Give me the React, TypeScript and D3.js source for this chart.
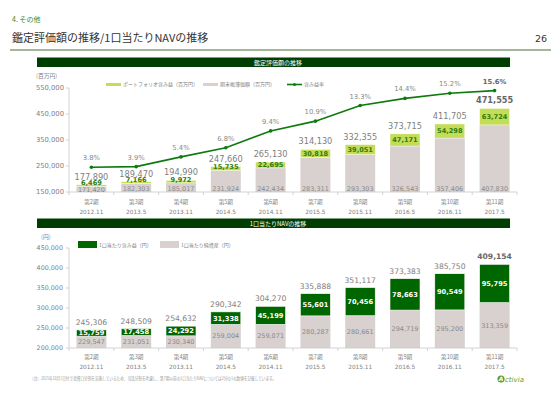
import * as d3 from 'd3';

const periods = ['第2期', '第3期', '第4期', '第5期', '第6期', '第7期', '第8期', '第9期', '第10期', '第11期'];
const dates = ['2012.11', '2013.5', '2013.11', '2014.5', '2014.11', '2015.5', '2015.11', '2016.5', '2016.11', '2017.5'];

// 鑑定評価額の推移 (百万円)
const bookValue = [171420, 182303, 185017, 231924, 242434, 283311, 293303, 326543, 357406, 407830];
const unrealizedGain = [6469, 7166, 9972, 15735, 22695, 30818, 39051, 47171, 54298, 63724];
const appraisalValue = [177890, 189470, 194990, 247660, 265130, 314130, 332355, 373715, 411705, 471555];
const gainRate = [3.8, 3.9, 5.4, 6.8, 9.4, 10.9, 13.3, 14.4, 15.2, 15.6];
const topTicks = [150000, 250000, 350000, 450000, 550000];

// 1口当たりNAVの推移 (円)
const navNetAssets = [229547, 231051, 230340, 259004, 259071, 280287, 280661, 294719, 295200, 313359];
const navGain = [15759, 17458, 24292, 31338, 45199, 55601, 70456, 78663, 90549, 95795];
const navTotal = [245306, 248509, 254632, 290342, 304270, 335888, 351117, 373383, 385750, 409154];
const bottomTicks = [200000, 250000, 300000, 350000, 400000, 450000];

const JP = '"Noto Sans CJK JP", sans-serif';
const NUM = '"DejaVu Sans", sans-serif';
const GRAY_BAR = '#d8d1d0';
const LIME = '#c4dc58';
const DARK = '#006600';
const LINE = '#0d7a0d';
const fmt = d3.format(',');

export default function App() {
  const x = d3.scaleBand<string>().domain(periods).range([69, 517]).paddingInner(0.33).paddingOuter(0.165);
  const bw = x.bandwidth();
  const step = x.step();
  const cx = (i: number) => (x(periods[i]) as number) + bw / 2;

  const yTop = d3.scaleLinear().domain([150000, 550000]).range([192, 88]);
  const yRate = d3.scaleLinear().domain([0, 16]).range([192, 88]);
  const yBot = d3.scaleLinear().domain([200000, 450000]).range([348, 248]);

  const rateLine = d3.line<number>()
    .x((_, i) => cx(i))
    .y(d => yRate(d));

  const xLabels = (y0: number) => periods.map((p, i) => (
    <g key={p} fill="#808080" textAnchor="middle">
      <text x={cx(i)} y={y0} fontSize={5.6} fontFamily={JP}>{p}</text>
      <text x={cx(i)} y={y0 + 10} fontSize={5.8} fontFamily={NUM}>{dates[i]}</text>
    </g>
  ));

  const xAxisLine = (y0: number) => (
    <g stroke="#c8c8c8" strokeWidth={0.8}>
      <line x1={69} x2={517} y1={y0} y2={y0} />
      {d3.range(periods.length + 1).map(i => (
        <line key={i} x1={69 + i * step} x2={69 + i * step} y1={y0} y2={y0 + 3} />
      ))}
    </g>
  );

  return (
    <div style={{ position: 'fixed', left: 0, top: 0 }}>
      <svg width={560} height={396} style={{ display: 'block', background: '#fff' }}>
        {/* header */}
        <text x={12} y={22} fontSize={7} fill="#3c8a1e" fontFamily={JP}>4. その他</text>
        <text x={12} y={42} fontSize={11} fill="#333" fontFamily={JP}>鑑定評価額の推移/1口当たりNAVの推移</text>
        <text x={547} y={42} fontSize={9.5} fill="#333" fontFamily={NUM} textAnchor="end">26</text>
        <line x1={10} x2={551} y1={50} y2={50} stroke="#4a6e35" strokeWidth={1} />

        {/* ---------- top chart ---------- */}
        <rect x={37} y={57.5} width={473} height={9.5} fill="#003d00" />
        <text x={278} y={64.8} fontSize={6} fill="#fff" fontFamily={JP} textAnchor="middle">鑑定評価額の推移</text>
        <text x={36} y={78} fontSize={5.8} fill="#808080" fontFamily={JP}>(百万円)</text>

        {/* legend */}
        <rect x={106} y={83} width={15} height={3} fill={LIME} />
        <text x={123} y={86.3} fontSize={5} fill="#808080" fontFamily={JP}>ポートフォリオ含み益（百万円）</text>
        <rect x={203} y={83} width={15} height={3} fill={GRAY_BAR} />
        <text x={220} y={86.3} fontSize={5} fill="#808080" fontFamily={JP}>期末帳簿価額（百万円）</text>
        <line x1={287} x2={302} y1={84.5} y2={84.5} stroke={LINE} strokeWidth={1.6} />
        <circle cx={294.5} cy={84.5} r={1.5} fill={LINE} />
        <text x={304} y={86.3} fontSize={5} fill="#808080" fontFamily={JP}>含み益率</text>

        {/* y axis */}
        <line x1={69} x2={69} y1={88} y2={192} stroke="#c8c8c8" strokeWidth={0.8} />
        {topTicks.map(t => (
          <g key={t}>
            <line x1={66} x2={69} y1={yTop(t)} y2={yTop(t)} stroke="#c8c8c8" strokeWidth={0.8} />
            <text x={64} y={yTop(t) + 2.4} fontSize={6.8} fill="#808080" fontFamily={NUM} textAnchor="end">{fmt(t)}</text>
          </g>
        ))}

        {/* bars */}
        {periods.map((p, i) => {
          const x0 = x(p) as number;
          const yb = yTop(bookValue[i]);
          const yt = yTop(appraisalValue[i]);
          return (
            <g key={p}>
              <rect x={x0} y={yb} width={bw} height={192 - yb} fill={GRAY_BAR} />
              <rect x={x0} y={yt} width={bw} height={yb - yt} fill={LIME} stroke="#fff" strokeWidth={0.5} />
            </g>
          );
        })}
        {xAxisLine(192)}
        {periods.map((p, i) => {
          const yb = yTop(bookValue[i]);
          const yt = yTop(appraisalValue[i]);
          const gainMid = Math.min((yb + yt) / 2, yb - 3.5);
          const bookMid = Math.max((yb + 192) / 2, 188.5);
          const last = i === periods.length - 1;
          return (
            <g key={p} textAnchor="middle">
              <text x={cx(i)} y={bookMid + 2.3} fontSize={6.5} fill="#8a8a8a" fontFamily={NUM}>{fmt(bookValue[i])}</text>
              <text x={cx(i)} y={gainMid + 2.3} fontSize={6.6} fontWeight="bold" fill="#2e7d0f" fontFamily={NUM}>{fmt(unrealizedGain[i])}</text>
              <text x={cx(i)} y={yt - 5} fontSize={8.2} fontWeight={last ? 'bold' : 'normal'} fill={last ? '#666' : '#808080'} fontFamily={NUM}>{fmt(appraisalValue[i])}</text>
            </g>
          );
        })}

        {/* gain rate line */}
        <path d={rateLine(gainRate) ?? ''} fill="none" stroke={LINE} strokeWidth={1.6} />
        {gainRate.map((r, i) => {
          const last = i === gainRate.length - 1;
          return (
            <g key={i}>
              <circle cx={cx(i)} cy={yRate(r)} r={1.8} fill={LINE} />
              <text x={cx(i)} y={yRate(r) - 7} fontSize={6.8} fontWeight={last ? 'bold' : 'normal'} fill={last ? '#666' : '#8a8a8a'} fontFamily={NUM} textAnchor="middle">{r.toFixed(1)}%</text>
            </g>
          );
        })}
        {xLabels(204)}

        {/* ---------- bottom chart ---------- */}
        <rect x={37} y={218.5} width={473} height={9.5} fill="#003d00" />
        <text x={278} y={225.8} fontSize={6} fill="#fff" fontFamily={JP} textAnchor="middle">1口当たりNAVの推移</text>
        <text x={41} y={239} fontSize={5.8} fill="#808080" fontFamily={JP}>(円)</text>

        <rect x={78} y={241} width={19} height={7} fill={DARK} />
        <text x={99} y={246.6} fontSize={5} fill="#808080" fontFamily={JP}>1口当たり含み益（円）</text>
        <rect x={160} y={241} width={19} height={7} fill={GRAY_BAR} />
        <text x={181} y={246.6} fontSize={5} fill="#808080" fontFamily={JP}>1口当たり純資産（円）</text>

        <line x1={69} x2={69} y1={248} y2={348} stroke="#c8c8c8" strokeWidth={0.8} />
        {bottomTicks.map(t => (
          <g key={t}>
            <line x1={66} x2={69} y1={yBot(t)} y2={yBot(t)} stroke="#c8c8c8" strokeWidth={0.8} />
            <text x={63} y={yBot(t) + 2.3} fontSize={6.4} fill="#808080" fontFamily={NUM} textAnchor="end">{fmt(t)}</text>
          </g>
        ))}

        {periods.map((p, i) => {
          const x0 = x(p) as number;
          const yn = yBot(navNetAssets[i]);
          const yt = yBot(navTotal[i]);
          const last = i === periods.length - 1;
          return (
            <g key={p} textAnchor="middle">
              <rect x={x0} y={yn} width={bw} height={348 - yn} fill={GRAY_BAR} />
              <rect x={x0} y={yt} width={bw} height={yn - yt} fill={DARK} stroke="#fff" strokeWidth={0.6} />
              <text x={cx(i)} y={(yn + 348) / 2 + 2.3} fontSize={6.5} fill="#8a8a8a" fontFamily={NUM}>{fmt(navNetAssets[i])}</text>
              <text x={cx(i)} y={(yn + yt) / 2 + 2.4} fontSize={6.7} fontWeight="bold" fill="#fff" fontFamily={NUM}>{fmt(navGain[i])}</text>
              <text x={cx(i)} y={yt - 5} fontSize={7.6} fontWeight={last ? 'bold' : 'normal'} fill={last ? '#666' : '#808080'} fontFamily={NUM}>{fmt(navTotal[i])}</text>
            </g>
          );
        })}
        {xAxisLine(348)}
        {xLabels(359)}

        {/* footnote and logo */}
        <text x={30} y={380} fontSize={4.2} fill="#999" fontFamily={JP} textLength={246} lengthAdjust="spacingAndGlyphs">
          （注）2015年10月1日付で投資口分割を実施しているため、当該分割を考慮し、第7期以前の1口当たりNAVについては2分の1の数値を記載しています。
        </text>
        <circle cx={501} cy={379} r={3.6} fill="#5aa02c" />
        <text x={501} y={381.3} fontSize={6} fontStyle="italic" fontWeight="bold" fill="#fff" fontFamily={NUM} textAnchor="middle">A</text>
        <text x={505} y={381.5} fontSize={7} fontStyle="italic" fill="#5aa02c" fontFamily={NUM}>ctivia</text>
      </svg>
    </div>
  );
}
